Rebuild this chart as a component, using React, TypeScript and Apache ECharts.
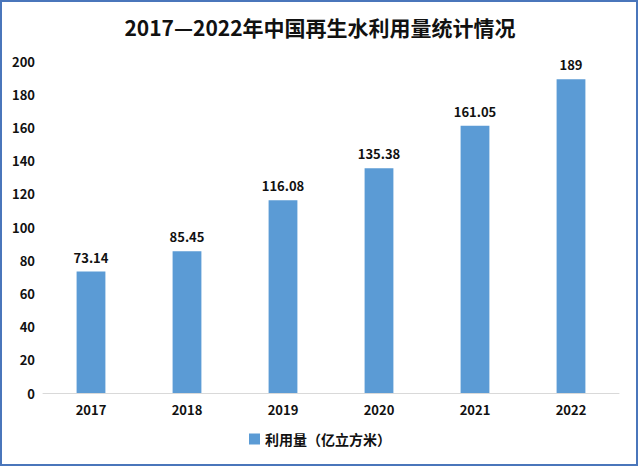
import React, { useEffect, useRef } from "react";
import * as echarts from "echarts";

const categories = ["2017", "2018", "2019", "2020", "2021", "2022"];
const values = [73.14, 85.45, 116.08, 135.38, 161.05, 189];
const seriesName = "利用量（亿立方米）";
const titleText = "2017—2022年中国再生水利用量统计情况";

const FONT = "'Noto Sans CJK SC', 'Liberation Sans', sans-serif";

export default function App() {
  const ref = useRef<HTMLDivElement>(null);
  useEffect(() => {
    document.body.style.margin = "0";
    const chart = echarts.init(ref.current!, undefined, { renderer: "svg" });
    chart.setOption({
      animation: false,
      backgroundColor: "#ffffff",
      title: {
        text: titleText,
        left: "center",
        top: 11,
        textStyle: { fontFamily: FONT, fontSize: 21, fontWeight: "bold", color: "#111" },
      },
      graphic: [
        {
          type: "rect",
          shape: { x: 1, y: 1, width: 636, height: 464 },
          style: { fill: "none", stroke: "#4a76bb", lineWidth: 2 },
          z: 100,
        },
      ],
      legend: {
        bottom: 16,
        left: "center",
        itemWidth: 11,
        itemHeight: 11,
        icon: "rect",
        textStyle: { fontFamily: FONT, fontSize: 14, fontWeight: "bold", color: "#111" },
        data: [seriesName],
      },
      grid: { left: 43, right: 21, top: 61, bottom: 74, containLabel: false },
      xAxis: {
        type: "category",
        data: categories,
        axisLine: { lineStyle: { color: "#d9d9d9", width: 1 } },
        axisTick: { show: false },
        axisLabel: { fontFamily: FONT, fontSize: 13, fontWeight: "bold", color: "#111", margin: 10 },
      },
      yAxis: {
        type: "value",
        min: 0,
        max: 200,
        interval: 20,
        splitLine: { show: false },
        axisLine: { show: false },
        axisTick: { show: false },
        axisLabel: { fontFamily: FONT, fontSize: 13, fontWeight: "bold", color: "#111", margin: 8, align: "right" },
      },
      series: [
        {
          name: seriesName,
          type: "bar",
          data: values,
          barWidth: "30%",
          itemStyle: { color: "#5b9bd5" },
          label: {
            show: true,
            position: "top",
            distance: 8,
            fontFamily: FONT,
            fontSize: 13,
            fontWeight: "bold",
            color: "#111",
          },
        },
      ],
    });
    return () => chart.dispose();
  }, []);
  return <div ref={ref} style={{ position: "absolute", left: 0, top: 0, width: 640, height: 467 }} />;
}
